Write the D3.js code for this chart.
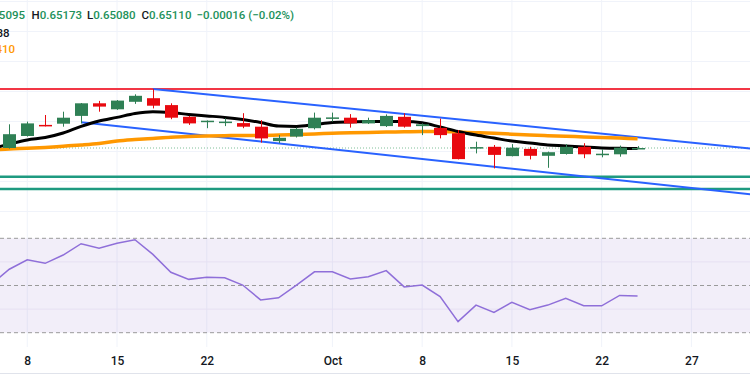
<!DOCTYPE html>
<meta charset="utf-8">
<script src="https://d3js.org/d3.v7.min.js"></script>
<style>
  body { margin: 0; background: #fff; }
  text { font-family: Roboto, "Noto Sans", sans-serif; }
</style>
<div id="chart"></div>
<script>
// daily candles, index 0 = Sep 4 (off screen on the left)
const dates = ["Sep 4","Sep 5","Sep 8","Sep 9","Sep 10","Sep 11","Sep 12","Sep 15","Sep 16","Sep 17","Sep 18","Sep 19",
  "Sep 22","Sep 23","Sep 24","Sep 25","Sep 26","Sep 29","Sep 30","Oct 1","Oct 2","Oct 3","Oct 6","Oct 7","Oct 8","Oct 9",
  "Oct 10","Oct 13","Oct 14","Oct 15","Oct 16","Oct 17","Oct 20","Oct 21","Oct 22","Oct 23","Oct 24"]
const open  = [0.6530,0.6511,0.6551,0.6588,0.6592,0.6618,0.6660,0.6640,0.6665,0.6677,0.6654,0.6615,0.6600,0.6598,0.6594,0.6582,
  0.6534,0.6549,0.6577,0.6611,0.6612,0.6593,0.6584,0.6615,0.6584,0.6578,0.6560,0.6512,0.6515,0.6484,0.6508,0.6485,0.6491,0.6515,
  0.6490,0.6490,0.65095]
const high  = [0.6535,0.6590,0.6599,0.6621,0.6632,0.6661,0.6668,0.6671,0.6690,0.6708,0.6660,0.6618,0.6603,0.6610,0.6627,0.6604,
  0.6554,0.6579,0.6629,0.6629,0.6624,0.6612,0.6623,0.6627,0.6593,0.6609,0.6571,0.6532,0.6521,0.6524,0.6515,0.6499,0.6524,0.6527,
  0.6507,0.6519,0.65173]
const low   = [0.6505,0.6509,0.6549,0.6583,0.6582,0.6593,0.6632,0.6638,0.6658,0.6643,0.6607,0.6588,0.6577,0.6584,0.6577,0.6529,
  0.6527,0.6546,0.6573,0.6599,0.6579,0.6591,0.6581,0.6579,0.6554,0.6543,0.6473,0.6493,0.6443,0.6483,0.6473,0.6445,0.6489,0.6477,
  0.6480,0.6482,0.65080]
const close = [0.6512,0.6557,0.6593,0.6584,0.6612,0.6660,0.6649,0.6669,0.6685,0.6652,0.6612,0.6593,0.6602,0.6599,0.6582,0.6543,
  0.6545,0.6575,0.6612,0.6613,0.6593,0.6604,0.6618,0.6582,0.6590,0.6554,0.6474,0.6514,0.6488,0.6512,0.6485,0.6497,0.6515,0.6490,
  0.6492,0.6512,0.65110]

// moving averages
const ma9   = [0.6508,0.6524,0.6538,0.6546,0.6561,0.6583,0.6601,0.6613,0.6626,0.6632,0.6629,0.6623,0.6618,0.6613,0.6606,0.6596,
  0.6584,0.6583,0.6589,0.6596,0.6598,0.6599,0.6599,0.6599,0.6595,0.6581,0.6566,0.6554,0.6544,0.6534,0.6528,0.6521,0.6518,0.6514,
  0.6511,0.6510,0.6509]
const ma20  = [0.6504,0.6508,0.6510,0.6513,0.6517,0.6521,0.6526,0.6534,0.6539,0.6543,0.6547,0.6549,0.6551,0.6552,0.6553,0.6553,
  0.6554,0.6556,0.6558,0.6560,0.6562,0.6563,0.6564,0.6565,0.6566,0.6566,0.6564,0.6562,0.6560,0.6557,0.6554,0.6552,0.6550,0.6548,
  0.6546,0.6544,0.6542]

// RSI (14)
const rsi   = [50.6,56.9,60.9,59.4,62.9,67.7,65.8,67.9,69.4,63.2,55.6,52.6,53.5,53.3,50.2,43.9,44.8,50.2,55.8,55.8,52.8,53.7,
  56.3,49.4,50.2,45.3,34.7,41.7,38.6,42.9,39.7,41.7,44.6,41.4,41.4,45.8,45.6]

// levels and channel (index, price)
const resistance = 0.6708
const supports = [0.6415, 0.6374]
const lastPrice = 0.6511
const upperChannel = [[9, 0.6708], [43, 0.6505]]
const lowerChannel = [[5, 0.6597], [43, 0.6352]]
const rsiLevels = [70, 50, 30]
const rsiGrid = [40, 60]

// time axis
const tickIdx = [2, 7, 12, 19, 24, 29, 34, 39]
const tickLabels = ["8", "15", "22", "Oct", "8", "15", "22", "27"]

const W = 750, H = 375
const mainTop = 0, mainBottom = 222, rsiTop = 222, rsiBottom = 347

const svg = d3.select("#chart").append("svg")
  .attr("width", W).attr("height", H)

svg.append("clipPath").attr("id", "mainClip")
  .append("rect").attr("x", 0).attr("y", mainTop).attr("width", W).attr("height", mainBottom - mainTop)
svg.append("clipPath").attr("id", "rsiClip")
  .append("rect").attr("x", 0).attr("y", rsiTop).attr("width", W).attr("height", rsiBottom - rsiTop)

const x = d3.scaleLinear().domain([1, 40]).range([9.3, 9.3 + 39 * 17.95])
const y = d3.scaleLinear().domain([0.6511, 0.6711]).range([148, 88])
const yr = d3.scaleLinear().domain([30, 70]).range([332.7, 238.3])

// vertical grid
svg.append("g").selectAll("line").data(tickIdx).join("line")
  .attr("x1", d => x(d)).attr("x2", d => x(d))
  .attr("y1", 0).attr("y2", rsiBottom)
  .attr("stroke", "#f0f3fa").attr("stroke-width", 1)

// main pane
const main = svg.append("g").attr("clip-path", "url(#mainClip)")

main.append("g").selectAll("line").data(d3.range(0.63, 0.705, 0.01)).join("line")
  .attr("x1", 0).attr("x2", W)
  .attr("y1", d => Math.round(y(d)) + 0.5).attr("y2", d => Math.round(y(d)) + 0.5)
  .attr("stroke", "#f0f3fa")

main.append("line")
  .attr("x1", 0).attr("x2", W).attr("y1", y(lastPrice)).attr("y2", y(lastPrice))
  .attr("stroke", "#7fbf98").attr("stroke-width", 1).attr("stroke-dasharray", "1,2")

main.append("line")
  .attr("x1", 0).attr("x2", W).attr("y1", y(resistance)).attr("y2", y(resistance))
  .attr("stroke", "#f23645").attr("stroke-width", 2)

main.append("g").selectAll("line").data(supports).join("line")
  .attr("x1", 0).attr("x2", W).attr("y1", d => y(d)).attr("y2", d => y(d))
  .attr("stroke", "#1e9a80").attr("stroke-width", 2.5)

main.append("g").selectAll("line").data([upperChannel, lowerChannel]).join("line")
  .attr("x1", d => x(d[0][0])).attr("y1", d => y(d[0][1]))
  .attr("x2", d => x(d[1][0])).attr("y2", d => y(d[1][1]))
  .attr("stroke", "#2962ff").attr("stroke-width", 2)

const line = d3.line().x((d, i) => x(i)).y(d => y(d)).curve(d3.curveMonotoneX)

main.append("path").datum(ma20).attr("d", line)
  .attr("fill", "none").attr("stroke", "#ff9800").attr("stroke-width", 3.5)
main.append("path").datum(ma9).attr("d", line)
  .attr("fill", "none").attr("stroke", "#000").attr("stroke-width", 3)

const candles = dates.map((d, i) => ({i, o: open[i], h: high[i], l: low[i], c: close[i]}))
const green = "#2f8055", red = "#e8090f"
const cg = main.append("g").selectAll("g").data(candles).join("g")
cg.append("line")
  .attr("x1", d => Math.round(x(d.i)) + 0.5).attr("x2", d => Math.round(x(d.i)) + 0.5)
  .attr("y1", d => y(d.h)).attr("y2", d => y(d.l))
  .attr("stroke", d => d.c >= d.o ? green : red).attr("stroke-width", 1)
cg.append("rect")
  .attr("x", d => Math.round(x(d.i)) - 6)
  .attr("width", 13)
  .attr("y", d => y(Math.max(d.o, d.c)))
  .attr("height", d => Math.max(1.5, Math.abs(y(d.o) - y(d.c))))
  .attr("fill", d => d.c >= d.o ? green : red)

// RSI pane
const rp = svg.append("g").attr("clip-path", "url(#rsiClip)")
rp.append("rect")
  .attr("x", 0).attr("width", W)
  .attr("y", yr(70)).attr("height", yr(30) - yr(70))
  .attr("fill", "#7e57c2").attr("fill-opacity", 0.1)
rp.append("g").selectAll("line").data(rsiGrid).join("line")
  .attr("x1", 0).attr("x2", W).attr("y1", d => yr(d)).attr("y2", d => yr(d))
  .attr("stroke", "#e6e0f2")
rp.append("g").selectAll("line").data(rsiLevels).join("line")
  .attr("x1", 0).attr("x2", W).attr("y1", d => yr(d)).attr("y2", d => yr(d))
  .attr("stroke", "#9a9a9a").attr("stroke-dasharray", "4,3")
rp.append("path").datum(rsi)
  .attr("d", d3.line().x((d, i) => x(i)).y(d => yr(d)))
  .attr("fill", "none").attr("stroke", "#8f6fd9").attr("stroke-width", 1.5)

// time axis
const xAxis = svg.append("g").attr("transform", `translate(0, ${rsiBottom})`)
  .call(d3.axisBottom(x).tickValues(tickIdx).tickFormat((d, i) => tickLabels[i]).tickSize(0).tickPadding(9))
xAxis.select(".domain").remove()
xAxis.selectAll("text").attr("font-size", 12).attr("font-weight", 500).attr("fill", "#131722")
  .attr("font-family", "Roboto, sans-serif")

svg.append("line").attr("x1", 0).attr("x2", W).attr("y1", 373.5).attr("y2", 373.5)
  .attr("stroke", "#e0e3eb")

// legend
const lg = svg.append("g").attr("font-size", 11.5).attr("font-weight", 500)
lg.append("text").attr("x", 25).attr("y", 19).attr("text-anchor", "end")
  .attr("fill", "#22915a").text("O0.65095")
const fields = [["H", "0.65173", 31.5], ["L", "0.65080", 87], ["C", "0.65110", 141.5]]
fields.forEach(f => {
  const t = lg.append("text").attr("x", f[2]).attr("y", 19)
  t.append("tspan").attr("fill", "#131722").text(f[0])
  t.append("tspan").attr("fill", "#22915a").text(f[1])
})
lg.append("text").attr("x", 196.5).attr("y", 19).attr("fill", "#22915a").text("\u22120.00016 (\u22120.02%)")
lg.append("text").attr("x", 9.5).attr("y", 36.5).attr("text-anchor", "end")
  .attr("fill", "#131722").text("EMA 9 0.65188")
lg.append("text").attr("x", 15).attr("y", 53).attr("text-anchor", "end")
  .attr("fill", "#ff9800").text("EMA 20 0.65410")
</script>
